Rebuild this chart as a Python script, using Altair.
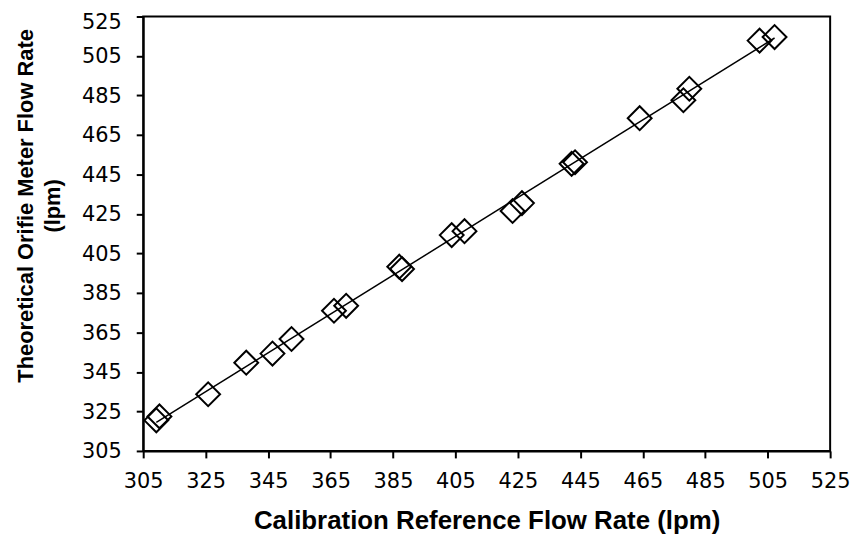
import altair as alt
import pandas as pd

# Calibration reference flow rate (lpm) and theoretical orifice meter flow rate (lpm)
ref_flow = [309.2, 310.2, 325.8, 338.0, 346.4, 352.5, 366.1, 370.0, 387.0, 387.9,
            403.8, 407.9, 423.3, 426.3, 442.2, 443.3, 464.0, 478.0, 479.9, 502.4, 507.2]
orifice_flow = [320.5, 322.5, 333.7, 349.7, 354.3, 361.7, 376.0, 378.5, 398.3, 397.1,
                414.3, 416.3, 426.5, 430.5, 450.4, 451.2, 473.5, 482.6, 488.4, 512.8, 514.6]

tick_values = [305, 325, 345, 365, 385, 405, 425, 445, 465, 485, 505, 525]

x_title = "Calibration Reference Flow Rate (lpm)"
y_title = ["Theoretical Orifie Meter Flow Rate", "(lpm)"]

df = pd.DataFrame({"ref": ref_flow, "orifice": orifice_flow})

x_enc = alt.X(
    "ref:Q",
    scale=alt.Scale(domain=[305, 525], nice=False, zero=False),
    axis=alt.Axis(
        values=tick_values, title=x_title, grid=False,
        labelFont="DejaVu Sans", labelFontSize=21, labelColor="black",
        labelPadding=13, tickSize=7, tickWidth=2, tickColor="black",
        domainColor="black", domainWidth=2,
        titleFont="Liberation Sans", titleFontSize=26, titleFontWeight="bold",
        titleColor="black", titleY=78, titleBaseline="alphabetic",
        labelFlush=False, labelOverlap=False,
    ),
)
y_enc = alt.Y(
    "orifice:Q",
    scale=alt.Scale(domain=[305, 525], nice=False, zero=False),
    axis=alt.Axis(
        values=tick_values, title=y_title, grid=False,
        labelFont="DejaVu Sans", labelFontSize=21, labelColor="black",
        labelPadding=15,
        labelOffset={"condition": {"test": "datum.value === 525", "value": 6}, "value": 1},
        tickSize=7, tickWidth=2, tickColor="black",
        domainColor="black", domainWidth=2,
        titleFont="Liberation Sans", titleFontSize=22, titleFontWeight="bold",
        titleColor="black", titleAngle=270, titleAlign="center",
        titleBaseline="alphabetic", titleX=-111, titleY=190, titleLineHeight=27,
        labelFlush=False, labelOverlap=False,
    ),
)

base = alt.Chart(df)

line = base.transform_regression("ref", "orifice").mark_line(
    color="black", strokeWidth=1.5
).encode(x=x_enc, y=y_enc)

points = base.mark_point(
    shape="diamond", size=576, filled=False, color="black", strokeWidth=2, opacity=1
).encode(x=x_enc, y=y_enc)

chart = (
    alt.layer(line, points)
    .properties(
        width=691,
        height=437,
        autosize=alt.AutoSizeParams(type="none"),
        padding={"left": 136, "top": 7, "right": 24, "bottom": 85},
        background="white",
    )
    .configure_view(stroke="black", strokeWidth=2)
)

chart.save("out.html", embed_options={"renderer": "svg", "actions": False})
